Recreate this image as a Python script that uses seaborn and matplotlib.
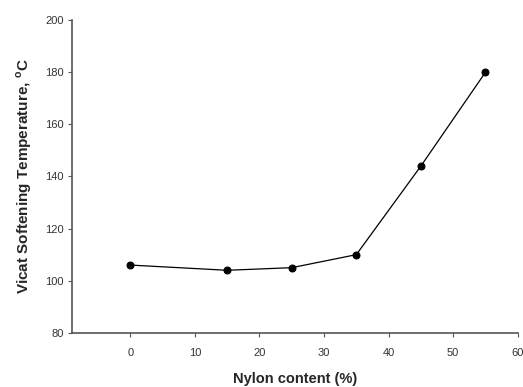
import matplotlib
matplotlib.use("Agg")
import matplotlib.pyplot as plt
import seaborn as sns
import pandas as pd

# nylon content (%) vs vicat softening temp
nylon = [0, 15, 25, 35, 45, 55]
vicat = [106, 104, 105, 110, 144, 180]

df = pd.DataFrame({"nylon": nylon, "vicat": vicat})

sns.set_style("white")
plt.rcParams["font.family"] = ["Liberation Sans", "DejaVu Sans"]

fig = plt.figure(figsize=(5.23, 3.87), dpi=100)
ax = fig.add_axes([0.138, 0.140, 0.852, 0.808])

sns.lineplot(data=df, x="nylon", y="vicat", ax=ax, color="black", lw=0.9,
             marker="o", markersize=5, markeredgecolor="black")

ax.set_xlim(-9, 60)
ax.set_ylim(80, 200)
ax.set_xticks(range(0, 61, 10))
ax.set_yticks(range(80, 201, 20))
sns.despine(ax=ax)
for s in ["left", "bottom"]:
    ax.spines[s].set_color("#555555")
    ax.spines[s].set_linewidth(1.2)
ax.tick_params(axis="both", direction="out", length=3, width=0.8,
               bottom=True, left=True,
               color="#555555", labelsize=8, labelcolor="#333333", pad=8)
ax.tick_params(axis="y", pad=3)

ax.set_xlabel("Nylon content (%)", fontsize=10.5, fontweight="bold", labelpad=10)
ax.set_ylabel("Vicat Softening Temperature, $^{\\mathregular{o}}$C", fontsize=11,
              fontweight="bold", labelpad=8)

fig.savefig("out.png", dpi=100)
